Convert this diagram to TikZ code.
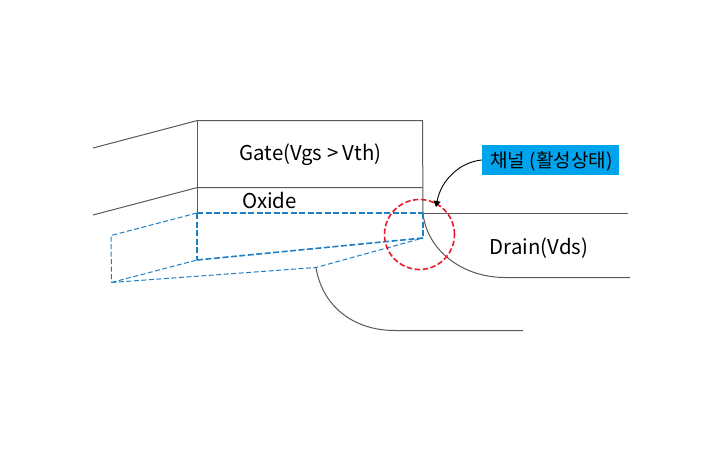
\documentclass[tikz,border=0pt]{standalone}
\usepackage{fontspec}
\setmainfont{Noto Sans CJK KR}
\usetikzlibrary{arrows.meta}
\definecolor{gline}{HTML}{595959}
\definecolor{bline}{HTML}{1F7FC4}
\definecolor{redc}{HTML}{F01828}
\definecolor{cyanb}{HTML}{00A4EC}
\tikzset{
  gl/.style={draw=gline,line width=1pt},
  bl/.style={draw=bline,line width=1pt,dash pattern=on 5pt off 2.5pt},
  bb/.style={draw=bline,line width=1.6pt,dash pattern=on 6pt off 2.5pt},
  lab/.style={font=\fontsize{20.4}{23}\selectfont,text=black,inner sep=0pt,anchor=center},
}
\begin{document}
\begin{tikzpicture}[x=1pt,y=-1pt]
\useasboundingbox (0,0) rectangle (720,450);
\fill[white] (0,0) rectangle (720,450);
% coordinates
\coordinate (gtl) at (197.5,120.5); \coordinate (gtr) at (422.5,120.5);
\coordinate (gml) at (197.5,187.5); \coordinate (gmr) at (422.5,187.5);
\coordinate (gbl) at (197.5,213.5); \coordinate (gbr) at (423,213.5);
\coordinate (bl) at (197,213); \coordinate (br) at (423,213);
\coordinate (a1) at (93,148); \coordinate (a2) at (93,215);
\coordinate (dend) at (628,213.5); \coordinate (dbot) at (630,277.5);
\coordinate (p1) at (111,235.5); \coordinate (p2) at (111.5,282.5);
\coordinate (p3) at (197,260); \coordinate (p4) at (423,238);
\coordinate (p5) at (316,267.5); \coordinate (send) at (523,330.5);
% grey
\draw[gl] (a1) -- (gtl) -- (gtr) -- (gbr);
\draw[gl] (a2) -- (gml) -- (gmr);
\draw[gl] (gml) -- (gtl);
\draw[gl] (gml) -- (gbl);
\draw[gl] (gbr) -- (dend);
\draw[gl] (gbr) .. controls (427,250) and (462,277.5) .. (505,277.5) -- (dbot);
\draw[gl] (p5) .. controls (322,305) and (352,330.5) .. (395,330.5) -- (send);
% blue
\draw[draw=white,line width=2pt] (bl) -- (br);
\draw[bb] (bl) -- (br);
\draw[bb] (bl) -- (p3);
\draw[bb] (p3) -- (p4);
\draw[bb] (br) -- (p4);
\draw[bl] (bl) -- (p1) -- (p2);
\draw[bl] (p2) -- (p3);
\draw[bl] (p2) -- (p5) -- (p4);
% red
\node[draw=redc,line width=1.6pt,dash pattern=on 5.5pt off 2.5pt,circle,minimum size=70pt,inner sep=0pt] (ring) at (419.5,234.5) {};
% labels
\node[lab] (gate) at (310.5,154.5) {Gate(Vgs > Vth)};
\node[lab] (oxide) at (269.5,200.5) {Oxide};
\node[lab] (drain) at (539,248) {Drain(Vds)};
\node[fill=cyanb,minimum width=137pt,minimum height=30pt,inner sep=0pt] (chan) at (550.5,160) {};
\node[font=\fontsize{19}{21}\selectfont,inner sep=0pt] (chantext) at (551.5,161) {채널 (활성상태)};
\draw[black,line width=0.9pt,-{Triangle[length=6pt,width=7pt]}] (chan.west) .. controls (460,162) and (441,180) .. (436,207);
\end{tikzpicture}
\end{document}
